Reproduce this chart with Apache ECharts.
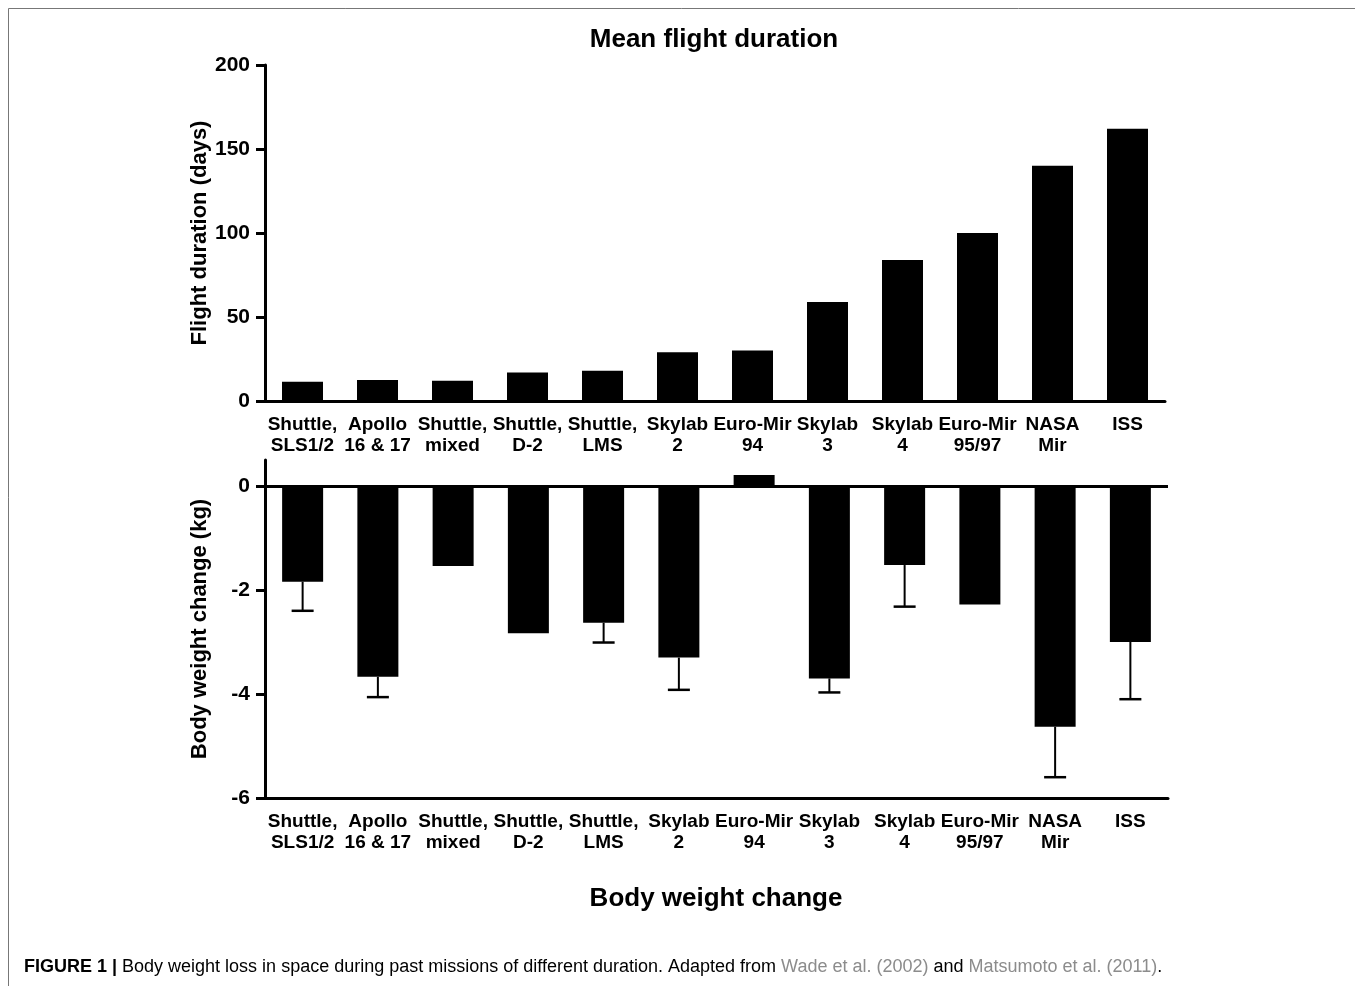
<!DOCTYPE html>
<html>
<head>
<meta charset="utf-8">
<script src="https://cdn.jsdelivr.net/npm/echarts@6/dist/echarts.min.js"></script>
<style>
  html, body { margin: 0; padding: 0; background: #fff; }
  #main { width: 1355px; height: 986px; }
</style>
</head>
<body>
<div id="main"></div>
<script>
// missions, in the order shown on both panels
var missions = ['Shuttle,\nSLS1/2', 'Apollo\n16 & 17', 'Shuttle,\nmixed', 'Shuttle,\nD-2', 'Shuttle,\nLMS',
    'Skylab\n2', 'Euro-Mir\n94', 'Skylab\n3', 'Skylab\n4', 'Euro-Mir\n95/97', 'NASA\nMir', 'ISS'];

// mean flight duration (days)
var durationDays = [11.5, 12.5, 12, 17, 18, 29, 30, 59, 84, 100, 140, 162];

// body weight change (kg) and the end of its error bar (null = no bar)
var weightChange = [-1.84, -3.67, -1.54, -2.83, -2.63, -3.30, 0.21, -3.70, -1.52, -2.28, -4.63, -3.00];
var weightErrEnd = [-2.40, -4.06, null, null, -3.01, -3.92, null, -3.97, -2.32, null, -5.60, -4.10];

var durationTicks = [0, 50, 100, 150, 200];
var weightTicks = [-6, -4, -2, 0];

var FONT = '"Liberation Sans", Arial, Helvetica, sans-serif';

var errData = [];
for (var i = 0; i < missions.length; i++) {
    if (weightErrEnd[i] != null)
        errData.push([i, weightChange[i], weightErrEnd[i]]);
}

function catAxis(grid) {
    return {
        type: 'category',
        gridIndex: grid,
        data: missions,
        position: 'bottom',
        axisLine: { onZero: false, lineStyle: { color: '#000', width: 3 } },
        axisTick: { alignWithLabel: true, length: 9, lineStyle: { color: '#000', width: 3 } },
        axisLabel: {
            interval: 0, margin: 13, color: '#000', fontFamily: FONT,
            fontWeight: 'bold', fontSize: 19, lineHeight: 21, verticalAlign: 'top'
        }
    };
}

function valAxis(grid, min, max, ticks, name) {
    return {
        type: 'value',
        gridIndex: grid,
        min: min,
        max: max,
        name: name,
        nameLocation: 'middle',
        nameGap: 54,
        nameMoveOverlap: false,
        nameTextStyle: { color: '#000', fontFamily: FONT, fontWeight: 'bold', fontSize: 22 },
        splitLine: { show: false },
        axisLine: { show: true, lineStyle: { color: '#000', width: 3 } },
        axisTick: { show: true, length: 9, customValues: ticks, lineStyle: { color: '#000', width: 3 } },
        axisLabel: {
            customValues: ticks, margin: 15, color: '#000',
            fontFamily: FONT, fontWeight: 'bold', fontSize: 21
        }
    };
}

var myChart = echarts.init(document.getElementById('main'));

var option = {
    animation: false,
    backgroundColor: '#fff',
    grid: [
        { left: 265, top: 65, width: 900, height: 336 },
        { left: 265, top: 460, width: 903, height: 338 }
    ],
    xAxis: [catAxis(0), catAxis(1)],
    yAxis: [
        valAxis(0, 0, 200, durationTicks, 'Flight duration (days)'),
        valAxis(1, -6, 0.5, weightTicks, 'Body weight change (kg)')
    ],
    series: [
        {
            type: 'bar', xAxisIndex: 0, yAxisIndex: 0,
            data: durationDays, barWidth: 41,
            itemStyle: { color: '#000' }
        },
        {
            type: 'bar', xAxisIndex: 1, yAxisIndex: 1,
            data: weightChange, barWidth: 41,
            itemStyle: { color: '#000' },
            markLine: {
                silent: true, symbol: 'none', label: { show: false },
                lineStyle: { color: '#000', width: 3, type: 'solid' },
                data: [{ yAxis: 0 }]
            }
        },
        {
            type: 'custom', xAxisIndex: 1, yAxisIndex: 1,
            data: errData,
            encode: { x: 0, y: [1, 2] },
            renderItem: function (params, api) {
                var p0 = api.coord([api.value(0), api.value(1)]);
                var p1 = api.coord([api.value(0), api.value(2)]);
                return {
                    type: 'group',
                    children: [
                        { type: 'line', shape: { x1: p0[0], y1: p0[1], x2: p1[0], y2: p1[1] },
                          style: { stroke: '#000', lineWidth: 2 } },
                        { type: 'line', shape: { x1: p1[0] - 11, y1: p1[1], x2: p1[0] + 11, y2: p1[1] },
                          style: { stroke: '#000', lineWidth: 2.5 } }
                    ]
                };
            }
        }
    ],
    graphic: [
        // frame (top and left edges only)
        { type: 'line', shape: { x1: 8.5, y1: 8.5, x2: 1355, y2: 8.5 }, style: { stroke: '#777', lineWidth: 1 } },
        { type: 'line', shape: { x1: 8.5, y1: 8.5, x2: 8.5, y2: 986 }, style: { stroke: '#777', lineWidth: 1 } },
        {
            type: 'text', x: 714, y: 40,
            style: { text: 'Mean flight duration', fill: '#000', font: 'bold 26px ' + FONT,
                     textAlign: 'center', textVerticalAlign: 'middle' }
        },
        {
            type: 'text', x: 716, y: 899,
            style: { text: 'Body weight change', fill: '#000', font: 'bold 26px ' + FONT,
                     textAlign: 'center', textVerticalAlign: 'middle' }
        },
        {
            type: 'text', x: 24, y: 967,
            style: {
                text: '{b|FIGURE 1 |} Body weight loss in space during past missions of different duration. Adapted from {g|Wade et al. (2002)} and {g|Matsumoto et al. (2011)}.',
                fill: '#000', font: '18px ' + FONT, textVerticalAlign: 'middle',
                rich: {
                    b: { fontWeight: 'bold', fontSize: 18, fontFamily: FONT, fill: '#000' },
                    g: { fontSize: 18, fontFamily: FONT, fill: '#8c8c8c' }
                }
            }
        }
    ]
};

myChart.setOption(option);
</script>
</body>
</html>
